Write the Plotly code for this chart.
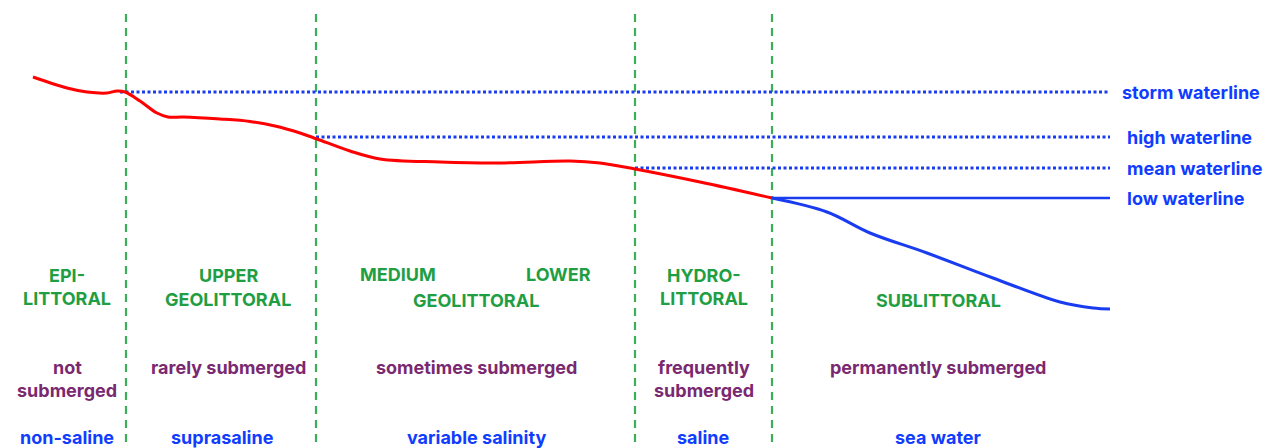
import plotly.graph_objects as go

W, H = 1273, 448
OFF = 8  # page body margin offset

# shore profile (diagram units: x across, y downward)
shore_x = [33, 67, 87, 107, 117, 125, 140, 157, 168, 183, 220, 250, 275, 300, 317, 350, 380, 440, 500, 570, 600, 635, 700, 772]
shore_y = [77, 88, 92, 93, 91, 92, 101, 113, 117, 117, 119, 121.5, 126, 133, 139, 151, 159, 162, 163, 161, 163, 169, 182, 198]

# sea floor below low waterline
floor_x = [772, 827, 870, 927, 993, 1060, 1093, 1110]
floor_y = [198, 212, 233, 253, 278, 302, 308, 309]

# zone boundaries
boundaries = [126, 316, 635, 772]

# waterlines
wl_names = ["storm waterline", "high waterline", "mean waterline", "low waterline"]
wl_start = [120, 316, 635, 772]
wl_end = [1110, 1110, 1110, 1110]
wl_level = [92, 137, 168, 198]
wl_label_x = [1120, 1125, 1125, 1125]
wl_dotted = [True, True, True, False]

# zone labels
zone_text = ["EPI-", "LITTORAL", "UPPER", "GEOLITTORAL", "MEDIUM", "LOWER", "GEOLITTORAL",
             "HYDRO-", "LITTORAL", "SUBLITTORAL"]
zone_x = [67, 67, 228, 228, 398, 558, 476, 704, 704, 938]
zone_y = [275, 298, 275, 299, 274, 274, 300, 275, 298, 300]

sub_text = ["not", "submerged", "rarely submerged", "sometimes submerged", "frequently", "submerged",
            "permanently submerged"]
sub_x = [67, 67, 228, 476, 704, 704, 938]
sub_y = [367, 390, 367, 367, 367, 390, 367]

sal_text = ["non-saline", "suprasaline", "variable salinity", "saline", "sea water"]
sal_x = [67, 222, 476, 703, 938]
sal_y = [437, 437, 437, 437, 437]

GREEN_LINE = "#3aaf58"
GREEN_TXT = "#1f9e43"
PURPLE = "#7a2870"
BLUE_TXT = "#0f3cff"
BLUE_LINE = "#1a3cf0"
RED = "#ff0000"
FONT = "Inter"

fig = go.Figure()

for b in boundaries:
    fig.add_trace(go.Scatter(x=[b, b], y=[0, H], mode="lines",
                             line=dict(color=GREEN_LINE, width=2.2, dash="8px,6px"),
                             hoverinfo="skip", showlegend=False))

for s, e, lv, dotted in zip(wl_start, wl_end, wl_level, wl_dotted):
    fig.add_trace(go.Scatter(x=[s, e], y=[lv, lv], mode="lines",
                             line=dict(color=BLUE_LINE, width=3 if dotted else 2.5,
                                       dash="3px,2.5px" if dotted else "solid"),
                             hoverinfo="skip", showlegend=False))

fig.add_trace(go.Scatter(x=shore_x, y=shore_y, mode="lines",
                         line=dict(color=RED, width=3, shape="spline", smoothing=1.0),
                         hoverinfo="skip", showlegend=False))
fig.add_trace(go.Scatter(x=floor_x, y=floor_y, mode="lines",
                         line=dict(color=BLUE_LINE, width=3, shape="spline", smoothing=1.0),
                         hoverinfo="skip", showlegend=False))

def add_text(texts, xs, ys, color, anchor="center"):
    for t, x, y in zip(texts, xs, ys):
        fig.add_annotation(x=x, y=y, text=t, showarrow=False, xanchor=anchor, yanchor="middle",
                           font=dict(family=FONT, size=18, color=color, weight=700))

add_text(wl_names, wl_label_x, wl_level, BLUE_TXT, anchor="left")
add_text(zone_text, zone_x, zone_y, GREEN_TXT)
add_text(sub_text, sub_x, sub_y, PURPLE)
add_text(sal_text, sal_x, sal_y, BLUE_TXT)

fig.update_layout(
    width=W - OFF, height=H - OFF, margin=dict(l=0, r=0, t=0, b=0),
    paper_bgcolor="white", plot_bgcolor="white",
    xaxis=dict(range=[OFF, W], visible=False, fixedrange=True),
    yaxis=dict(range=[H, OFF], visible=False, fixedrange=True),
    showlegend=False,
)

fig.write_html("out.html")
